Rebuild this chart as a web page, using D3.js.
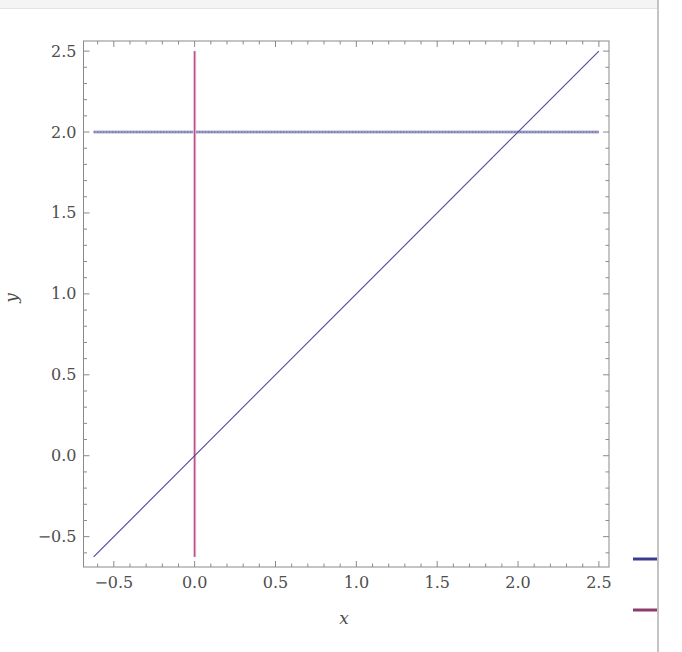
<!DOCTYPE html>
<html>
<head>
<meta charset="utf-8">
<script src="https://cdn.jsdelivr.net/npm/d3@7"></script>
<style>
body { margin: 0; background: #fff; }
svg { display: block; }
</style>
</head>
<body>
<script>
const width = 682
const height = 652
const xDomain = [-0.6875, 2.5625]
const yDomain = [-0.6875, 2.5625]
const majorTicks = [-0.5, 0, 0.5, 1, 1.5, 2, 2.5]
const minorTicks = d3.range(-6, 26).map(d => d / 10)
const tickLabels = ["\u22120.5", "0.0", "0.5", "1.0", "1.5", "2.0", "2.5"]
// y = x, y = 2, x = 0
const diagonal = [[-0.625, -0.625], [2.5, 2.5]]
const horizontal = [[-0.625, 2], [2.5, 2]]
const vertical = [[0, -0.625], [0, 2.5]]
const legendColors = ["#3c3c8c", "#8c3c6c"]

const frame = {left: 83.5, right: 609, top: 41, bottom: 567}
const frameColor = "#8a8a8a"
const labelColor = "#4e4e4e"
const font = "'DejaVu Serif', serif"

const svg = d3.select("body")
    .append("svg")
    .attr("width", width)
    .attr("height", height)

const x = d3.scaleLinear().domain(xDomain).range([frame.left, frame.right])
const y = d3.scaleLinear().domain(yDomain).range([frame.bottom, frame.top])

// page chrome
svg.append("rect")
    .attr("x", 0).attr("y", 0).attr("width", 657).attr("height", 8)
    .attr("fill", "#f4f4f4")
svg.append("line")
    .attr("x1", 0).attr("x2", 657).attr("y1", 8.5).attr("y2", 8.5)
    .attr("stroke", "#e2e2e2")
svg.append("line")
    .attr("x1", 658).attr("x2", 658).attr("y1", 0).attr("y2", height)
    .attr("stroke", "#c4c4c4").attr("stroke-width", 2)

// data lines
const line = d3.line().x(d => x(d[0])).y(d => y(d[1]))
svg.append("path").datum(horizontal)
    .attr("d", line).attr("fill", "none")
    .attr("stroke", "#8c8cc0").attr("stroke-width", 3).attr("stroke-opacity", 0.7)
svg.append("path").datum(horizontal)
    .attr("d", line).attr("fill", "none")
    .attr("stroke", "#55558f").attr("stroke-width", 1).attr("stroke-dasharray", "2 1")
svg.append("path").datum(vertical)
    .attr("d", line).attr("fill", "none")
    .attr("stroke", "#f0b4d4").attr("stroke-width", 3)
svg.append("path").datum(vertical)
    .attr("d", line).attr("fill", "none")
    .attr("stroke", "#a04a7a").attr("stroke-width", 1)
svg.append("path").datum(diagonal)
    .attr("d", line).attr("fill", "none")
    .attr("stroke", "#4a4a98").attr("stroke-width", 1.1)

// frame
svg.append("rect")
    .attr("x", frame.left).attr("y", frame.top)
    .attr("width", frame.right - frame.left).attr("height", frame.bottom - frame.top)
    .attr("fill", "none").attr("stroke", frameColor).attr("stroke-width", 1)

function ticks(g, values, len) {
    values.forEach(v => {
        g.append("line").attr("x1", x(v)).attr("x2", x(v))
            .attr("y1", frame.bottom).attr("y2", frame.bottom - len)
        g.append("line").attr("x1", x(v)).attr("x2", x(v))
            .attr("y1", frame.top).attr("y2", frame.top + len)
        g.append("line").attr("y1", y(v)).attr("y2", y(v))
            .attr("x1", frame.left).attr("x2", frame.left + len)
        g.append("line").attr("y1", y(v)).attr("y2", y(v))
            .attr("x1", frame.right).attr("x2", frame.right - len)
    })
}
const tickG = svg.append("g").attr("stroke", frameColor).attr("stroke-width", 1)
ticks(tickG, minorTicks.filter(v => !majorTicks.some(m => Math.abs(m - v) < 1e-9)), 3.5)
ticks(tickG, majorTicks, 6)

// tick labels
svg.append("g").selectAll("text").data(majorTicks).join("text")
    .attr("x", d => x(d)).attr("y", frame.bottom + 21)
    .attr("text-anchor", "middle")
    .attr("font-family", font).attr("font-size", 16).attr("fill", labelColor)
    .text((d, i) => tickLabels[i])
svg.append("g").selectAll("text").data(majorTicks).join("text")
    .attr("x", frame.left - 7).attr("y", d => y(d) + 5.5)
    .attr("text-anchor", "end")
    .attr("font-family", font).attr("font-size", 16).attr("fill", labelColor)
    .text((d, i) => tickLabels[i])

// axis labels
svg.append("text")
    .attr("x", 344).attr("y", 624)
    .attr("text-anchor", "middle")
    .attr("font-family", font).attr("font-style", "italic")
    .attr("font-size", 17).attr("fill", labelColor)
    .text("x")
svg.append("text")
    .attr("transform", "translate(17,298) rotate(-90)")
    .attr("text-anchor", "middle")
    .attr("font-family", font).attr("font-style", "italic")
    .attr("font-size", 17).attr("fill", labelColor)
    .text("y")

// legend swatches
svg.append("g").selectAll("line").data(legendColors).join("line")
    .attr("x1", 633).attr("x2", 657)
    .attr("y1", (d, i) => 559 + i * 51).attr("y2", (d, i) => 559 + i * 51)
    .attr("stroke", d => d).attr("stroke-width", 3)
</script>
</body>
</html>
